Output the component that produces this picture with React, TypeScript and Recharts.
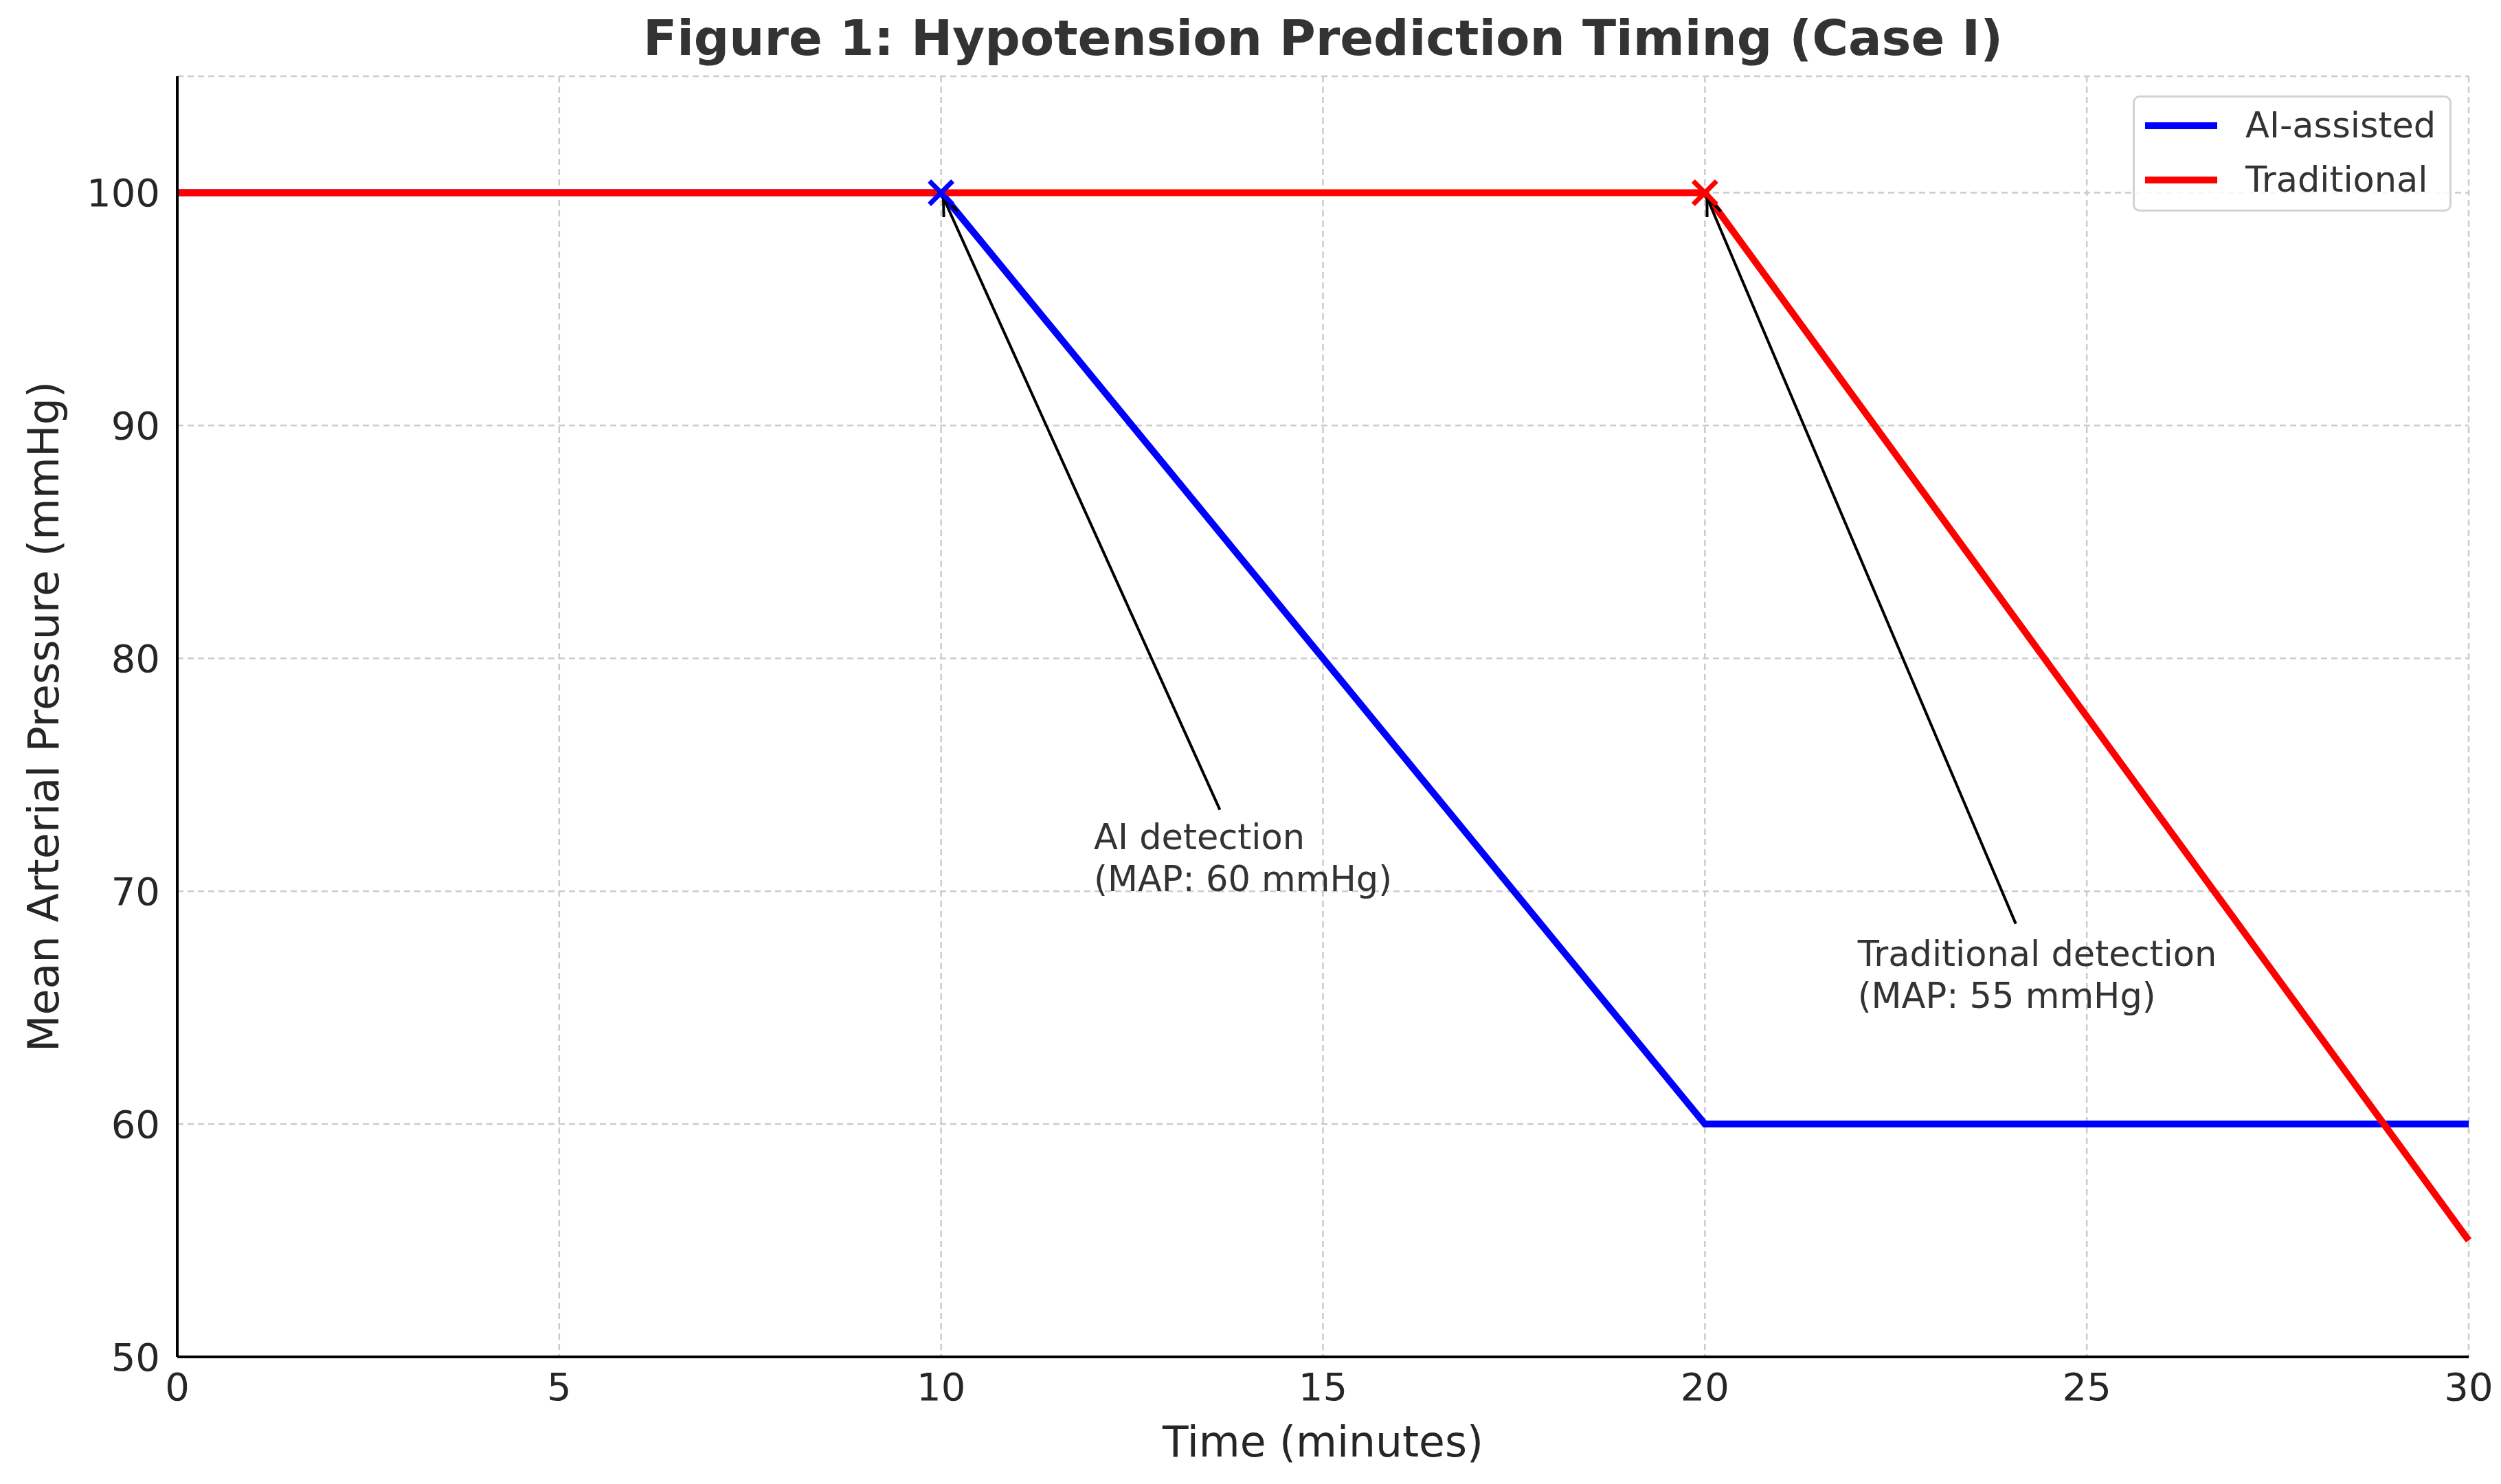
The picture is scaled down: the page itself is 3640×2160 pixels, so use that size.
import React from "react"
import {
  ComposedChart,
  Line,
  Scatter,
  XAxis,
  YAxis,
  CartesianGrid,
  Legend,
  ReferenceLine,
  ReferenceDot,
} from "recharts"

const times = [0, 10, 20, 30]
const aiAssisted = [100, 100, 60, 60]
const traditional = [100, 100, 100, 55]

const xTicks = [0, 5, 10, 15, 20, 25, 30]
const yTicks = [50, 60, 70, 80, 90, 100]

const seriesNames = ["AI-assisted", "Traditional"]
const seriesColors = ["#0000ff", "#ff0000"]

// detection points (time, MAP) for each series
const aiDetection = [{ time: 10, map: 100 }]
const tradDetection = [{ time: 20, map: 100 }]

// annotation: text anchor, arrow tail, arrow head (data units)
const annotations = [
  { lines: ["AI detection", "(MAP: 60 mmHg)"], text: [12, 70], tail: [13.65, 73.5], head: [10, 100] },
  { lines: ["Traditional detection", "(MAP: 55 mmHg)"], text: [22, 65], tail: [24.07, 68.6], head: [20, 100] },
]

const data = times.map((t, i) => ({ time: t, ai: aiAssisted[i], trad: traditional[i] }))

const FONT = '"DejaVu Sans", sans-serif'
const TEXT = "#262626"

function xMark(color: string) {
  return (props: any) => {
    const { cx, cy } = props
    const s = 17
    return (
      <g stroke={color} strokeWidth={7}>
        <line x1={cx - s} y1={cy - s} x2={cx + s} y2={cy + s} />
        <line x1={cx - s} y1={cy + s} x2={cx + s} y2={cy - s} />
      </g>
    )
  }
}

function Arrow(props: any) {
  const { x1, y1, x2, y2 } = props
  const dx = x2 - x1
  const dy = y2 - y1
  const len = Math.hypot(dx, dy) || 1
  const ux = dx / len
  const uy = dy / len
  const tx = x2 - ux * 8
  const ty = y2 - uy * 8
  const bx = tx - ux * 26
  const by = ty - uy * 26
  const px = -uy * 11
  const py = ux * 11
  return (
    <g stroke="#000" strokeWidth={4} fill="none">
      <line x1={x1} y1={y1} x2={tx} y2={ty} />
      <path d={`M${bx + px},${by + py}L${tx},${ty}L${bx - px},${by - py}`} />
    </g>
  )
}

function noteText(lines: string[]) {
  return (props: any) => {
    const { cx, cy } = props
    return (
      <text x={cx} y={cy} fontFamily={FONT} fontSize={51} fill="#333">
        {lines.map((l, i) => (
          <tspan key={i} x={cx} y={cy - (lines.length - 1 - i) * 61}>
            {l}
          </tspan>
        ))}
      </text>
    )
  }
}

const yLabel = (props: any) => {
  const vb = props.viewBox || { x: 0, y: 111, width: 258, height: 1864 }
  const x = vb.x + 63
  const y = vb.y + vb.height / 2
  return (
    <text
      x={x}
      y={y}
      transform={`rotate(-90 ${x} ${y})`}
      textAnchor="middle"
      dominantBaseline="central"
      fontFamily={FONT}
      fontSize={62}
      fill={TEXT}
    >
      Mean Arterial Pressure (mmHg)
    </text>
  )
}

const xLabel = (props: any) => {
  const vb = props.viewBox || { x: 258, y: 1975, width: 3335, height: 185 }
  const x = vb.x + vb.width / 2
  const y = vb.y + 124
  return (
    <text x={x} y={y} textAnchor="middle" dominantBaseline="central" fontFamily={FONT} fontSize={61.5} fill={TEXT}>
      Time (minutes)
    </text>
  )
}

const legendContent = (props: any) => {
  const items = (props.payload || []).filter((p: any) => seriesNames.includes(p.value))
  return (
    <div
      style={{
        border: "3px solid #d2d2d2",
        borderRadius: 10,
        background: "rgba(255,255,255,0.85)",
        padding: "1px 18px 4px 15px",
        fontFamily: FONT,
        fontSize: 51,
        color: "#333",
        whiteSpace: "nowrap",
        boxSizing: "border-box",
      }}
    >
      {items.map((p: any) => (
        <div key={p.value} style={{ display: "flex", alignItems: "center", height: 79 }}>
          <div style={{ width: 105, height: 10, background: p.color, marginRight: 41, flexShrink: 0 }} />
          <span>{p.value}</span>
        </div>
      ))}
    </div>
  )
}

export default function App() {
  return (
    <div style={{ position: "absolute", left: 0, top: 0, width: 3640, height: 2160, background: "#fff" }}>
      <div
        style={{
          position: "absolute",
          left: 258,
          width: 3335,
          top: 19,
          textAlign: "center",
          fontFamily: FONT,
          fontWeight: "bold",
          fontSize: 72,
          lineHeight: "72px",
          color: "#333",
          whiteSpace: "nowrap",
        }}
      >
        Figure 1: Hypotension Prediction Timing (Case I)
      </div>
      <ComposedChart width={3640} height={2160} data={data} margin={{ top: 111, right: 47, left: 0, bottom: 0 }}>
        <CartesianGrid stroke="#cccccc" strokeWidth={2.5} strokeDasharray="9 6" />
        <XAxis
          dataKey="time"
          type="number"
          domain={[0, 30]}
          ticks={xTicks}
          height={185}
          tickLine={false}
          tickMargin={17}
          axisLine={{ stroke: "#000", strokeWidth: 4 }}
          tick={{ fontFamily: FONT, fontSize: 56, fill: TEXT }}
          label={xLabel}
        />
        <YAxis
          type="number"
          domain={[50, 105]}
          ticks={yTicks}
          width={258}
          tickLine={false}
          tickMargin={19}
          axisLine={{ stroke: "#000", strokeWidth: 4 }}
          tick={{ fontFamily: FONT, fontSize: 56, fill: TEXT }}
          label={yLabel}
        />
        <Legend
          layout="vertical"
          align="center"
          verticalAlign="middle"
          content={legendContent}
          wrapperStyle={{ left: 3104, top: 139, width: 464, height: "auto" }}
        />
        <Line
          name={seriesNames[0]}
          dataKey="ai"
          type="linear"
          stroke={seriesColors[0]}
          strokeWidth={10}
          dot={false}
          activeDot={false}
          isAnimationActive={false}
        />
        <Line
          name={seriesNames[1]}
          dataKey="trad"
          type="linear"
          stroke={seriesColors[1]}
          strokeWidth={10}
          dot={false}
          activeDot={false}
          isAnimationActive={false}
        />
        <Scatter
          name="ai-detect"
          data={aiDetection}
          dataKey="map"
          legendType="none"
          shape={xMark(seriesColors[0])}
          isAnimationActive={false}
        />
        <Scatter
          name="trad-detect"
          data={tradDetection}
          dataKey="map"
          legendType="none"
          shape={xMark(seriesColors[1])}
          isAnimationActive={false}
        />
        {annotations.map((a, i) => (
          <ReferenceLine
            key={`arrow-${i}`}
            segment={[
              { x: a.tail[0], y: a.tail[1] },
              { x: a.head[0], y: a.head[1] },
            ]}
            ifOverflow="visible"
            shape={(p: any) => <Arrow {...p} />}
          />
        ))}
        {annotations.map((a, i) => (
          <ReferenceDot
            key={`note-${i}`}
            x={a.text[0]}
            y={a.text[1]}
            r={0}
            ifOverflow="visible"
            shape={noteText(a.lines)}
          />
        ))}
      </ComposedChart>
    </div>
  )
}
